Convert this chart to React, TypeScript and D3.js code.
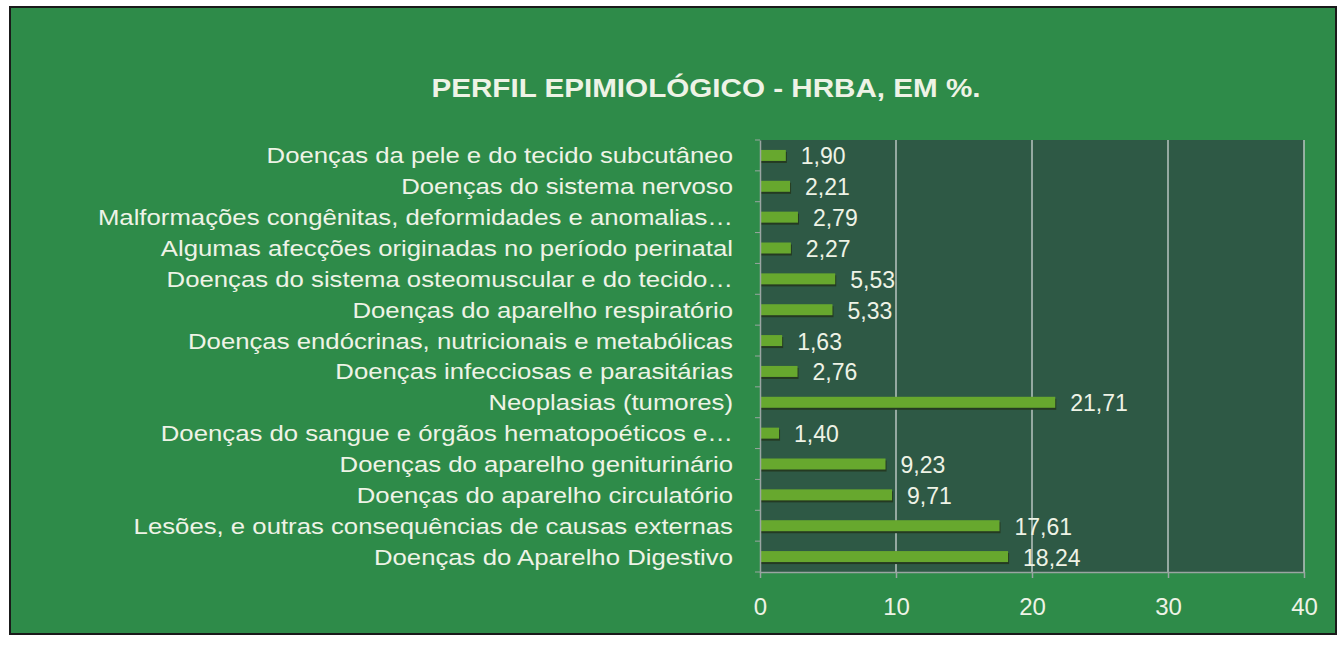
import React, { useEffect, useRef } from 'react';
import * as d3 from 'd3';

const title = 'PERFIL EPIMIOLÓGICO - HRBA, EM %.';

const categories = [
  'Doenças da pele e do tecido subcutâneo',
  'Doenças do sistema nervoso',
  'Malformações congênitas, deformidades e anomalias…',
  'Algumas afecções originadas no período perinatal',
  'Doenças do sistema osteomuscular e do tecido…',
  'Doenças do aparelho respiratório',
  'Doenças endócrinas, nutricionais e metabólicas',
  'Doenças infecciosas e parasitárias',
  'Neoplasias (tumores)',
  'Doenças do sangue e órgãos hematopoéticos e…',
  'Doenças do aparelho geniturinário',
  'Doenças do aparelho circulatório',
  'Lesões, e outras consequências de causas externas',
  'Doenças do Aparelho Digestivo',
];

const values = [1.9, 2.21, 2.79, 2.27, 5.53, 5.33, 1.63, 2.76, 21.71, 1.4, 9.23, 9.71, 17.61, 18.24];

const xTicks = [0, 10, 20, 30, 40];

export default function App() {
  const ref = useRef<SVGSVGElement | null>(null);

  useEffect(() => {
    const svg = d3.select(ref.current);
    svg.selectAll('*').remove();
    const width = 1344, height = 649;
    const plot = { left: 760, right: 1304, top: 140, bottom: 572 };
    const font = '"Liberation Sans", Arial, sans-serif';
    const txt = '#eef3e6';

    // frame
    svg.append('rect').attr('x', 10).attr('y', 7).attr('width', 1326).attr('height', 627)
      .attr('fill', '#2e8b49').attr('stroke', '#1a1a1a').attr('stroke-width', 2);

    svg.append('text').attr('x', 706).attr('y', 97).attr('text-anchor', 'middle')
      .attr('font-family', font).attr('font-weight', 'bold').attr('font-size', 26)
      .attr('fill', txt).attr('transform', 'translate(706,0) scale(1.14,1) translate(-706,0)')
      .text(title);

    const x = d3.scaleLinear().domain([0, 40]).range([plot.left, plot.right]);
    const y = d3.scaleBand().domain(categories).range([plot.top, plot.bottom]);

    svg.append('rect').attr('x', plot.left).attr('y', plot.top)
      .attr('width', plot.right - plot.left).attr('height', plot.bottom - plot.top)
      .attr('fill', '#2e5945');

    // gridlines
    svg.append('g').selectAll('line').data(xTicks.slice(1)).enter().append('line')
      .attr('x1', d => x(d)).attr('x2', d => x(d)).attr('y1', plot.top).attr('y2', plot.bottom)
      .attr('stroke', '#b9c4c0').attr('stroke-width', 1.5);

    // bars
    const data = categories.map((c, i) => ({ c, v: values[i] }));
    const bh = 11;
    svg.append('g').selectAll('rect').data(data).enter().append('rect')
      .attr('x', x(0)).attr('y', d => y(d.c)! + y.bandwidth() / 2 - bh / 2 + 2)
      .attr('width', d => x(d.v) - x(0) + 1).attr('height', bh)
      .attr('fill', '#243a22');
    svg.append('g').selectAll('rect').data(data).enter().append('rect')
      .attr('x', x(0)).attr('y', d => y(d.c)! + y.bandwidth() / 2 - bh / 2)
      .attr('width', d => x(d.v) - x(0)).attr('height', bh)
      .attr('fill', '#67a82e');

    svg.append('g').selectAll('text').data(data).enter().append('text')
      .attr('x', d => x(d.v) + 15).attr('y', d => y(d.c)! + y.bandwidth() / 2 + 9)
      .attr('font-family', font).attr('font-size', 23).attr('fill', txt)
      .text(d => d3.format('.2f')(d.v).replace('.', ','));

    // category labels
    svg.append('g').selectAll('text').data(categories).enter().append('text')
      .attr('transform', d => `translate(733,${y(d)! + y.bandwidth() / 2 + 8}) scale(1.17,1)`)
      .attr('text-anchor', 'end').attr('font-family', font).attr('font-size', 22)
      .attr('fill', txt).text(d => d);

    // axes
    const axisColor = '#9aa5a2';
    const yAxis = svg.append('g').attr('transform', `translate(${plot.left},0)`)
      .call(d3.axisLeft(y).tickSize(0).tickFormat(() => ''));
    yAxis.select('.domain').attr('stroke', axisColor).attr('stroke-width', 1.5);
    svg.append('g').selectAll('line').data(d3.range(categories.length + 1)).enter().append('line')
      .attr('x1', plot.left - 5).attr('x2', plot.left)
      .attr('y1', i => plot.top + i * y.step()).attr('y2', i => plot.top + i * y.step())
      .attr('stroke', axisColor);

    const xAxis = svg.append('g').attr('transform', `translate(0,${plot.bottom})`)
      .call(d3.axisBottom(x).tickValues(xTicks).tickSize(6).tickPadding(20).tickSizeOuter(0));
    xAxis.select('.domain').attr('stroke', axisColor).attr('stroke-width', 1.5);
    xAxis.selectAll('.tick line').attr('stroke', axisColor).attr('stroke-width', 1.5);
    xAxis.selectAll('.tick text').attr('font-family', font).attr('font-size', 24).attr('fill', txt);

    svg.attr('width', width).attr('height', height);
  }, []);

  return (
    <svg ref={ref} width={1344} height={649}
      style={{ position: 'absolute', left: 0, top: 0, background: '#ffffff' }} />
  );
}
